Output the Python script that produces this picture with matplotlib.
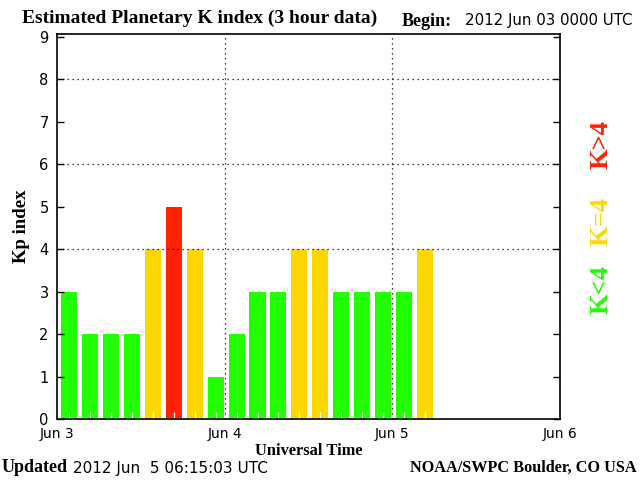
import matplotlib
matplotlib.use("Agg")
import matplotlib.pyplot as plt
import numpy as np

kp_values = [3, 2, 2, 2, 4, 5, 4, 1, 2, 3, 3, 4, 4, 3, 3, 3, 3, 4]
day_labels = ["Jun 3", "Jun 4", "Jun 5", "Jun 6"]
y_ticks = list(range(10))

GREEN = "#22ff00"
YELLOW = "#ffd700"
RED = "#ff2200"
SERIF = "Liberation Serif"

def color_for(k):
    if k < 4:
        return GREEN
    if k == 4:
        return YELLOW
    return RED

fig = plt.figure(figsize=(6.4, 4.8), dpi=100)
ax = fig.add_axes([57/640, 1-419/480, (560-57)/640, (419-34)/480])

starts = np.arange(len(kp_values)) * 3.0
ax.bar(starts + 0.55, kp_values, width=2.3, align="edge",
       color=[color_for(k) for k in kp_values], zorder=1)
# white minor marks at bar bottoms
ax.vlines(starts + 1.7, 0, 0.17, colors="white", linewidth=0.9, zorder=2)

ax.set_xlim(0, 72)
ax.set_ylim(0, 9.06)

# grids
for g in [4, 6, 8]:
    ax.axhline(g, color="black", linestyle=(0, (1, 3)), linewidth=0.9, zorder=3)
for g in [24, 48]:
    ax.axvline(g, color="black", linestyle=(0, (1, 3)), linewidth=0.9, zorder=3)

ax.set_yticks(y_ticks)
ax.set_yticklabels([str(t) for t in y_ticks], fontfamily="DejaVu Sans",
                   fontsize=10.5, color="black")
ax.tick_params(axis="y", direction="in", length=5, width=1, right=True,
               left=True, pad=6, color="black", labelcolor="black")
ax.set_xticks([0, 24, 48, 72])
ax.set_xticklabels(day_labels, fontfamily="DejaVu Sans", fontsize=10,
                   color="black")
ax.tick_params(axis="x", length=0, pad=6, labelcolor="black")
for s in ax.spines.values():
    s.set_linewidth(1.2)

ax.set_ylabel("Kp index", fontfamily=SERIF, fontweight="bold",
              fontsize=13.5, labelpad=7)
ax.set_xlabel("Universal Time", fontfamily=SERIF, fontweight="bold",
              fontsize=11.8, labelpad=1)

# top texts
fig.text(22/640, 1-18/480, "Estimated Planetary K index (3 hour data)",
         fontfamily=SERIF, fontweight="bold", fontsize=14,
         ha="left", va="center")
fig.text(402/640, 1-21/480, "Begin:", fontfamily=SERIF,
         fontweight="bold", fontsize=13, ha="left", va="center")
fig.text(465/640, 1-21/480, "2012 Jun 03 0000 UTC", fontfamily="DejaVu Sans",
         fontsize=10.8, ha="left", va="center")

# bottom texts
fig.text(2/640, 1-468/480, "Updated", fontfamily=SERIF,
         fontweight="bold", fontsize=13, ha="left", va="center")
fig.text(73/640, 1-468/480, "2012 Jun  5 06:15:03 UTC",
         fontfamily="DejaVu Sans", fontsize=11, ha="left", va="center")
fig.text(637/640, 1-468/480, "NOAA/SWPC Boulder, CO USA",
         fontfamily=SERIF, fontweight="bold", fontsize=11.7,
         ha="right", va="center")

# right side legend
fig.text(601/640, 1-145/480, "K>4", color=RED, rotation=90,
         fontfamily=SERIF, fontweight="bold", fontsize=19,
         ha="center", va="center")
fig.text(601/640, 1-221/480, "K=4", color=YELLOW, rotation=90,
         fontfamily=SERIF, fontweight="bold", fontsize=19,
         ha="center", va="center")
fig.text(601/640, 1-290/480, "K<4", color=GREEN, rotation=90,
         fontfamily=SERIF, fontweight="bold", fontsize=19,
         ha="center", va="center")

fig.savefig("out.png", dpi=100)
